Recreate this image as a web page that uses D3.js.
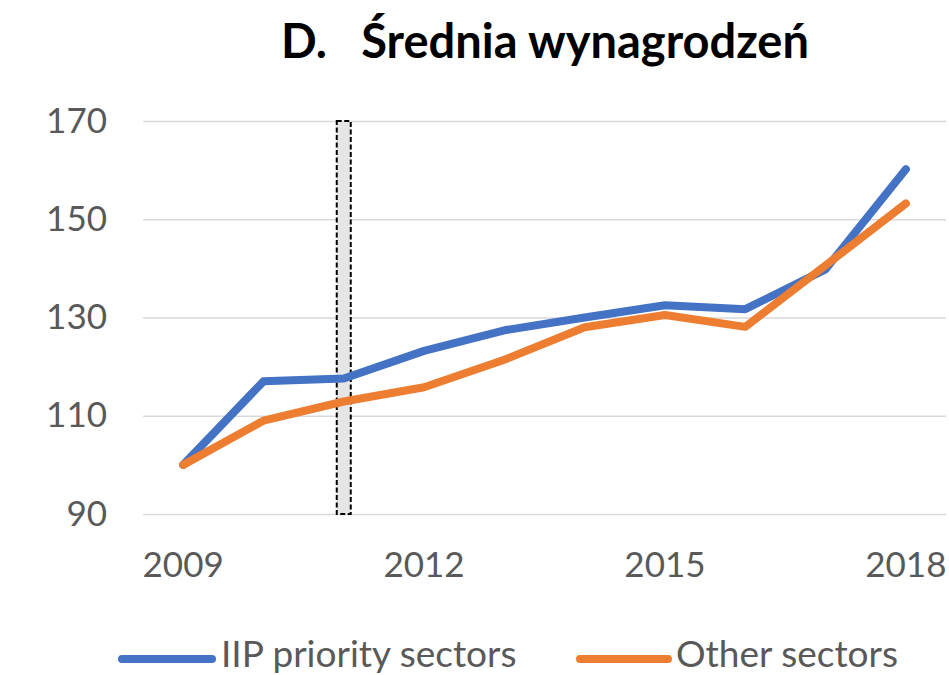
<!DOCTYPE html>
<html>
<head>
<meta charset="utf-8">
<script src="https://cdn.jsdelivr.net/npm/d3@7/dist/d3.min.js"></script>
<style>
  html, body { margin: 0; padding: 0; background: #fff; }
  svg { display: block; }
</style>
</head>
<body>
<svg id="chart" width="949" height="675"></svg>
<script>
const title = "D.   Średnia wynagrodzeń";
const years = [2009, 2010, 2011, 2012, 2013, 2014, 2015, 2016, 2017, 2018];
const xTickLabels = [2009, 2012, 2015, 2018];
const yTicks = [90, 110, 130, 150, 170];
const seriesNames = ["IIP priority sectors", "Other sectors"];
const iipValues = [100, 117, 117.6, 123.2, 127.4, 130, 132.5, 131.7, 139.8, 160.2];
const otherValues = [100, 109, 112.9, 115.8, 121.4, 128, 130.5, 128.1, 140.6, 153.2];
const markerYear = 2011;
const colors = ["#4472C4", "#ED7D31"];

const font = "Lato, 'Noto Sans', sans-serif";
const svg = d3.select("#chart");

const x = d3.scaleBand().domain(years).range([143, 946]);
const y = d3.scaleLinear().domain([90, 170]).range([514, 121]);
const cx = d => x(d) + x.bandwidth() / 2;

// gridlines
svg.append("g")
  .attr("transform", "translate(143,0)")
  .call(d3.axisLeft(y).tickValues(yTicks).tickSize(-(946 - 143)).tickFormat(""))
  .call(g => g.select(".domain").remove())
  .call(g => g.selectAll("line").attr("stroke", "#d9d9d9").attr("stroke-width", 1.5));

// y labels
svg.append("g")
  .attr("transform", "translate(143,0)")
  .call(d3.axisLeft(y).tickValues(yTicks).tickSize(0).tickPadding(36))
  .call(g => g.select(".domain").remove())
  .call(g => g.selectAll("text")
    .attr("fill", "#595959").attr("font-family", font).attr("font-size", 35));

// x labels
svg.append("g")
  .attr("transform", "translate(0,514)")
  .call(d3.axisBottom(x).tickValues(xTickLabels).tickSize(0).tickPadding(38))
  .call(g => g.select(".domain").remove())
  .call(g => g.selectAll("text")
    .attr("fill", "#595959").attr("font-family", font).attr("font-size", 35));

// marker bar
const barW = 14;
svg.append("rect")
  .attr("x", cx(markerYear) - barW / 2)
  .attr("y", y(170))
  .attr("width", barW)
  .attr("height", y(90) - y(170))
  .attr("fill", "#e6e6e6")
  .attr("stroke", "#000")
  .attr("stroke-width", 2)
  .attr("stroke-dasharray", "5,2.5");

// lines
const line = d3.line().x((d, i) => cx(years[i])).y(d => y(d));
[iipValues, otherValues].forEach((vals, i) => {
  svg.append("path")
    .attr("d", line(vals))
    .attr("fill", "none")
    .attr("stroke", colors[i])
    .attr("stroke-width", 8)
    .attr("stroke-linejoin", "round")
    .attr("stroke-linecap", "round");
});

// title
svg.append("text")
  .attr("x", 545).attr("y", 58)
  .attr("text-anchor", "middle")
  .attr("font-family", font).attr("font-weight", "bold")
  .attr("font-size", 47).attr("fill", "#000")
  .style("white-space", "pre")
  .text(title);

// legend
const legendItems = [
  { x1: 122, x2: 212, tx: 221 },
  { x1: 580, x2: 668, tx: 676 }
];
legendItems.forEach((it, i) => {
  svg.append("line")
    .attr("x1", it.x1).attr("x2", it.x2)
    .attr("y1", 659).attr("y2", 659)
    .attr("stroke", colors[i]).attr("stroke-width", 8)
    .attr("stroke-linecap", "round");
  svg.append("text")
    .attr("x", it.tx).attr("y", 667)
    .attr("font-family", font).attr("font-size", 37)
    .attr("fill", "#595959")
    .text(seriesNames[i]);
});
</script>
</body>
</html>
